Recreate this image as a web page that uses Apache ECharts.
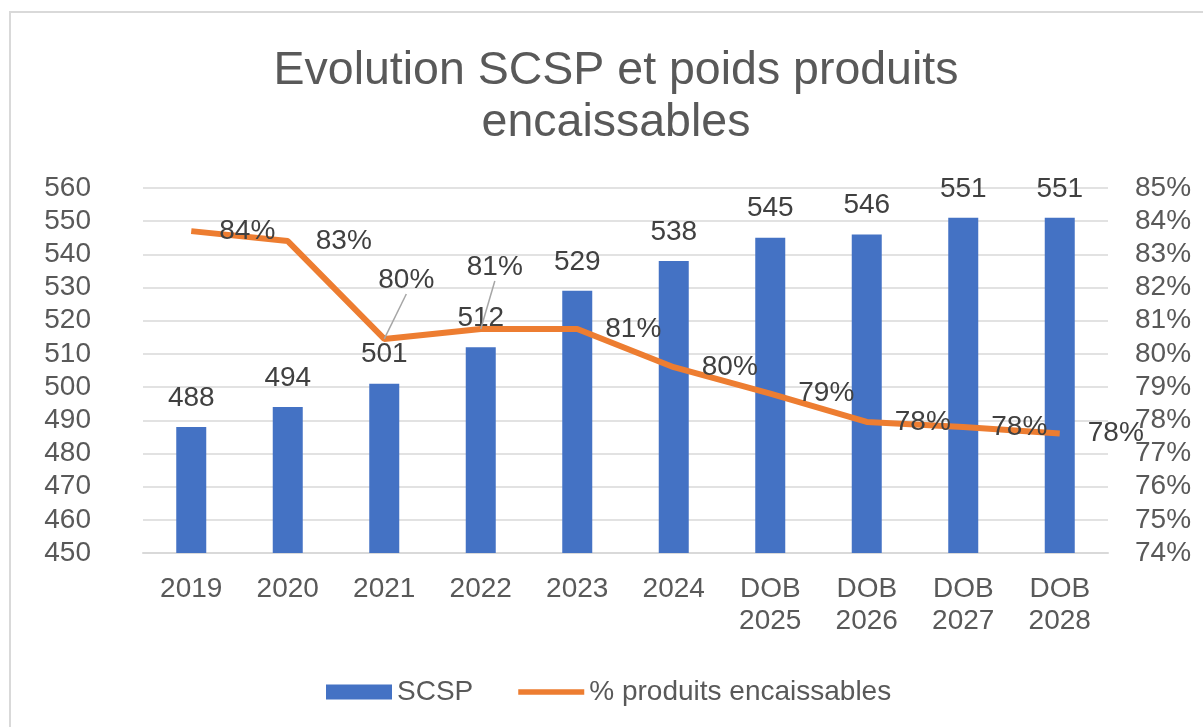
<!DOCTYPE html>
<html><head><meta charset="utf-8">
<script src="https://cdn.jsdelivr.net/npm/echarts@6/dist/echarts.min.js"></script>
<style>html,body{margin:0;padding:0;background:#fff}#c{width:1203px;height:727px}</style>
</head><body><div id="c"></div>
<script>
const categories = ['2019','2020','2021','2022','2023','2024','DOB\n2025','DOB\n2026','DOB\n2027','DOB\n2028'];
const scsp = [488,494,501,512,529,538,545,546,551,551];
const pctProduits = [83.7,83.4,80.45,80.75,80.75,79.6,78.8,77.95,77.8,77.6];
const leftTicks = {min:450, max:560, interval:10};
const rightTicks = {min:74, max:85, interval:1};
const movedLabels = [2,3];
const FONT = '"Liberation Sans", Arial, sans-serif';
const chart = echarts.init(document.getElementById('c'));
chart.setOption({
  animation:false,
  graphic:[{type:'rect', shape:{x:10,y:12,width:1220,height:740}, style:{fill:'none', stroke:'#d9d9d9', lineWidth:2}, z:-10}],
  title:{text:'Evolution SCSP et poids produits\nencaissables', left:611, top:40, textAlign:'center',
    textStyle:{fontFamily:FONT, fontSize:46.5, fontWeight:'normal', color:'#595959', lineHeight:52}},
  grid:{left:143, right:95, top:188, bottom:174},
  legend:{left:321, top:673, itemGap:45, itemWidth:66, itemHeight:15,
    textStyle:{fontFamily:FONT, fontSize:28, color:'#595959'},
    data:[{name:'SCSP', icon:'rect'},
          {name:'% produits encaissables', icon:'path://M0,0H70V6H0Z', itemStyle:{color:'#ED7D31', opacity:1}}]},
  xAxis:{type:'category', data:categories,
    axisLine:{lineStyle:{color:'#d9d9d9', width:2}}, axisTick:{show:false},
    axisLabel:{fontFamily:FONT, fontSize:28, color:'#595959', lineHeight:32, margin:20, interval:0}},
  yAxis:[
    {type:'value', min:leftTicks.min, max:leftTicks.max, interval:leftTicks.interval,
     axisLine:{show:false}, axisTick:{show:false},
     splitLine:{lineStyle:{color:'#d9d9d9', width:1.5}},
     axisLabel:{fontFamily:FONT, fontSize:28, color:'#595959', margin:52}},
    {type:'value', min:rightTicks.min, max:rightTicks.max, interval:rightTicks.interval,
     axisLine:{show:false}, axisTick:{show:false}, splitLine:{show:false},
     axisLabel:{fontFamily:FONT, fontSize:28, color:'#595959', margin:27, formatter:'{value}%'}}
  ],
  series:[
    {name:'SCSP', type:'bar', data:scsp, barWidth:30, itemStyle:{color:'#4472C4'},
     label:{show:true, position:'top', distance:15, fontFamily:FONT, fontSize:28, color:'#404040'}},
    {name:'% produits encaissables', type:'line', yAxisIndex:1,
     data:pctProduits.map((v,i)=>({value:v, labelLine:{show:movedLabels.includes(i)}})),
     symbol:'circle', symbolSize:0.1, itemStyle:{color:'#ED7D31'},
     lineStyle:{color:'#ED7D31', width:6},
     label:{show:true, position:'right', distance:28, fontFamily:FONT, fontSize:28, color:'#404040',
       formatter:p=>Math.round(p.value)+'%'},
     labelLine:{show:false, lineStyle:{color:'#a6a6a6', width:1.5}},
     labelLayout:function(p){
       if(p.dataIndex===2) return {dx:-34, dy:-59};
       if(p.dataIndex===3) return {dx:-42, dy:-62};
       return {};
     }, z:3}
  ]
});
</script></body></html>
